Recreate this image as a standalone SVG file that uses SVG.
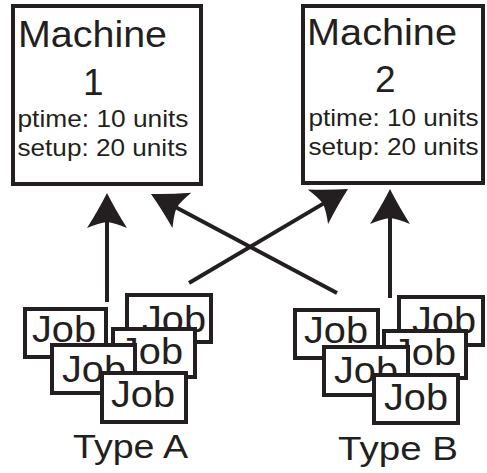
<svg xmlns="http://www.w3.org/2000/svg" width="487" height="473" viewBox="0 0 487 473">
<defs>
<style>
.box{fill:#fff;stroke:#231f20;stroke-width:4}
.t{fill:#231f20}
.big{font-size:37px}
.small{font-size:24px}
.lbl{font-size:33px}
.conn{stroke:#231f20;stroke-width:4;fill:none;marker-end:url(#ah)}
</style>
<marker id="ah" markerUnits="userSpaceOnUse" orient="auto" overflow="visible" markerWidth="1" markerHeight="1" refX="0" refY="0">
<path d="M10,0 Q-6,-8 -25,-20 Q-20,-8 -19,0 Q-20,8 -25,20 Q-6,8 10,0 Z" fill="#231f20"/>
</marker>
</defs>
<rect width="487" height="473" fill="#fff"/>
<g font-family="Liberation Sans, Arimo, Arial, sans-serif">
<g id="machine1">
<rect class="box" x="13" y="6" width="188" height="178"/>
<text class="t big" x="18" y="47" textLength="149" lengthAdjust="spacingAndGlyphs">Machine</text>
<text class="t big" x="83" y="95">1</text>
<text class="t small" x="17.5" y="127" textLength="171" lengthAdjust="spacingAndGlyphs">ptime: 10 units</text>
<text class="t small" x="17.5" y="156" textLength="170" lengthAdjust="spacingAndGlyphs">setup: 20 units</text>
</g>
<g id="machine2">
<rect class="box" x="303" y="6" width="180" height="177"/>
<text class="t big" x="307" y="45" textLength="150" lengthAdjust="spacingAndGlyphs">Machine</text>
<text class="t big" x="375" y="92">2</text>
<text class="t small" x="308.5" y="125.5" textLength="170" lengthAdjust="spacingAndGlyphs">ptime: 10 units</text>
<text class="t small" x="308.5" y="155" textLength="170" lengthAdjust="spacingAndGlyphs">setup: 20 units</text>
</g>
<g id="connectors">
<line class="conn" x1="107" y1="302" x2="107" y2="203"/>
<line class="conn" x1="390" y1="298" x2="390" y2="199"/>
<line class="conn" x1="189" y1="283" x2="339.4" y2="194.1"/>
<line class="conn" x1="337" y1="293" x2="159.8" y2="198.7"/>
</g>
<g id="typeA">
<g id="jobA2"><rect class="box" x="127" y="295" width="84" height="47"/><text class="t big" x="142" y="332" textLength="64" lengthAdjust="spacingAndGlyphs">Job</text></g>
<g id="jobA1"><rect class="box" x="25" y="309" width="81" height="48"/><text class="t big" x="32" y="342" textLength="64" lengthAdjust="spacingAndGlyphs">Job</text></g>
<g id="jobA3"><rect class="box" x="113" y="329" width="82" height="48"/><text class="t big" x="119" y="364" textLength="64" lengthAdjust="spacingAndGlyphs">Job</text></g>
<g id="jobA4"><rect class="box" x="52" y="345" width="83" height="48"/><text class="t big" x="62" y="382" textLength="64" lengthAdjust="spacingAndGlyphs">Job</text></g>
<g id="jobA5"><rect class="box" x="102" y="373" width="84" height="49"/><text class="t big" x="111" y="407" textLength="64" lengthAdjust="spacingAndGlyphs">Job</text></g>
<text class="t lbl" x="73" y="458" textLength="115" lengthAdjust="spacingAndGlyphs">Type A</text>
</g>
<g id="typeB">
<g id="jobB2"><rect class="box" x="399" y="297" width="84" height="48"/><text class="t big" x="412" y="333" textLength="64" lengthAdjust="spacingAndGlyphs">Job</text></g>
<g id="jobB1"><rect class="box" x="295" y="310" width="83" height="48"/><text class="t big" x="304" y="343" textLength="64" lengthAdjust="spacingAndGlyphs">Job</text></g>
<g id="jobB3"><rect class="box" x="384" y="331" width="82" height="47"/><text class="t big" x="392" y="365" textLength="64" lengthAdjust="spacingAndGlyphs">Job</text></g>
<g id="jobB4"><rect class="box" x="324" y="347" width="84" height="48"/><text class="t big" x="334" y="383" textLength="64" lengthAdjust="spacingAndGlyphs">Job</text></g>
<g id="jobB5"><rect class="box" x="374" y="375" width="84" height="48"/><text class="t big" x="384" y="410" textLength="64" lengthAdjust="spacingAndGlyphs">Job</text></g>
<text class="t lbl" x="338" y="460" textLength="120" lengthAdjust="spacingAndGlyphs">Type B</text>
</g>
</g>
</svg>
